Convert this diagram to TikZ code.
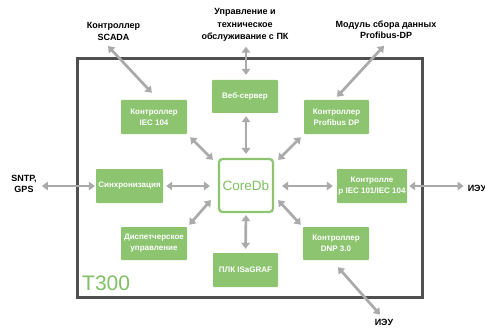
\documentclass[tikz,border=0pt]{standalone}
\usepackage{fontspec}
\setmainfont{Liberation Sans}
\usetikzlibrary{arrows.meta,calc}
\definecolor{gbox}{RGB}{140,196,112}
\definecolor{gtext}{RGB}{128,192,100}
\definecolor{garr}{RGB}{170,170,170}
\definecolor{framec}{RGB}{80,80,80}
\begin{document}
\begin{tikzpicture}[x=1pt,y=-1pt,
  box/.style={fill=gbox, text=white, font=\bfseries\fontsize{8}{11}\selectfont, align=center, inner sep=0pt, rounded corners=0.8pt},
  lbl/.style={font=\bfseries\fontsize{9}{11.5}\selectfont, align=center, inner sep=0pt},
  conn/.style={draw=garr, line width=2.7pt, {Triangle[length=6pt,width=8.5pt]}-{Triangle[length=6pt,width=8.5pt]}}]
\useasboundingbox (0,0) rectangle (485,329);
% frame
\node[draw=framec, line width=3pt, minimum width=345pt, minimum height=238pt, inner sep=0pt] (frame) at (249.5,178) {};
\node[anchor=base west, inner sep=0pt, text=gtext, font=\fontsize{21}{21}\selectfont] (t300) at (82,290) {T300};
% boxes
\node[box, minimum width=66pt, minimum height=34pt] (iec104) at (154,117) {Контроллер\\IEC 104};
\node[box, minimum width=66pt, minimum height=33pt] (web) at (245,96.5) {Веб-сервер};
\node[box, minimum width=65pt, minimum height=34pt] (prof) at (336.5,117) {Контроллер\\Profibus DP};
\node[box, minimum width=67pt, minimum height=34pt] (sync) at (129.5,186) {Синхронизация};
\node[draw=gbox, fill=white, line width=2.2pt, rounded corners=3.5pt, minimum width=54pt, minimum height=53pt, inner sep=0pt, text=gtext, font=\fontsize{13.5}{14}\selectfont] (core) at (246,185.5) {CoreDb};
\node[box, minimum width=70pt, minimum height=34pt] (iec101) at (372,186) {Контролле\\р IEC 101/IEC 104};
\node[box, minimum width=66pt, minimum height=33pt] (disp) at (154,243.5) {Диспетчерское\\управление};
\node[box, minimum width=65pt, minimum height=34pt] (plc) at (245.5,270) {ПЛК ISaGRAF};
\node[box, minimum width=66pt, minimum height=33pt] (dnp) at (336,243.5) {Контроллер\\DNP 3.0};
% outer labels
\node[lbl] (scada) at (113.5,31.5) {Контроллер\\SCADA};
\node[lbl, font=\bfseries\fontsize{9}{12.5}\selectfont] (ctrl) at (245,25) {Управление и\\техническое\\обслуживание с ПК};
\node[lbl] (mod) at (386,29.5) {Модуль сбора данных\\Profibus-DP};
\node[lbl] (sntp) at (24,184) {SNTP,\\GPS};
\node[lbl] (ieu1) at (477,188) {ИЭУ};
\node[lbl] (ieu2) at (384,322) {ИЭУ};
% connectors
\draw[conn] ($(scada.south)+(-5.5,5.5)$) -- ($(iec104.north west)+(31,-7)$);
\draw[conn] ($(ctrl.south)+(1,5)$) -- ($(web.north)+(1,-5)$);
\draw[conn] ($(mod.south)+(-2,7)$) -- ($(prof.north)+(0.5,-3)$);
\draw[conn] ($(sntp.east |- sync.west)+(5,0)$) -- ($(sync.west)+(-1,0)$);
\draw[conn] ($(iec101.east)+(2,0)$) -- ($(ieu1.west |- iec101.east)+(-4,0)$);
\draw[conn] ($(dnp.south)+(2,7)$) -- ($(ieu2.north)+(-4,-4)$);
\draw[conn] ($(iec104.south east)+(3,3)$) -- ($(core.north west)+(-5,2)$);
\draw[conn] ($(web.south)+(1,3)$) -- ($(core.north)+(0,-4)$);
\draw[conn] ($(prof.south west)+(-3,3)$) -- ($(core.north east)+(4,2)$);
\draw[conn] ($(sync.east)+(3,0)$) -- ($(core.west |- sync.east)+(-8,0)$);
\draw[conn] ($(core.east |- iec101.west)+(8,0)$) -- ($(iec101.west)+(-4,0)$);
\draw[conn] ($(core.south west)+(-7,-13)$) -- ($(disp.north east)+(2,-2)$);
\draw[conn] ($(core.south east)+(4,-13)$) -- ($(dnp.north west)+(-2,-2)$);
\draw[conn] ($(core.south)+(0,2)$) -- ($(plc.north)+(0,-4)$);
\end{tikzpicture}
\end{document}
